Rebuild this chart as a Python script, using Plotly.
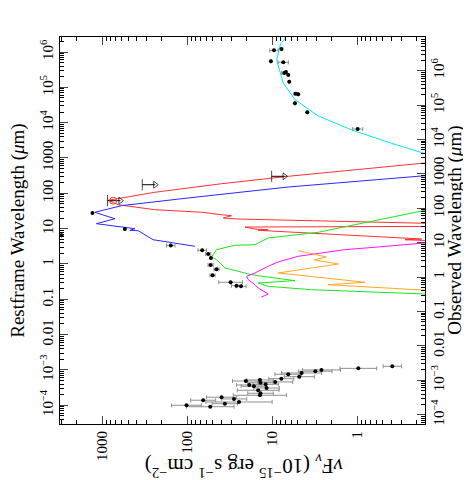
import numpy as np
import plotly.graph_objects as go

# observed photometry: restframe wavelength (micron), nuFnu (1e-15 erg/s/cm2), error (dex)
radio_wl = [1.117e6, 1.216e6, 5.46e5, 5.11e5, 2.55e5, 2.72e5, 2.23e5, 1.44e5, 6.61e4, 6.35e4, 3.53e4, 1.96e4, 6.6e3]
radio_flux = [9.57, 7.80, 10.4, 7.44, 7.24, 6.92, 6.50, 6.33, 5.33, 4.96, 5.42, 3.88, 0.99]
radio_err = [0.05, 0, 0, 0.06, 0.03, 0, 0, 0, 0.02, 0, 0, 0, 0.06]

opt_wl = [6.5, 27.7, 9.8, 3.33, 2.44, 1.92, 1.48, 0.935, 0.706, 0.478, 0.303, 0.243, 0.233]
opt_flux = [3040, 1312, 545, 157, 67, 56.9, 52.9, 53.4, 45.4, 50.6, 31.0, 26.4, 23.4]
opt_err = [0, 0, 0, 0.05, 0.05, 0.03, 0, 0.03, 0.03, 0.03, 0.14, 0.06, 0.06]

xray_wl = [1.27e-3, 1.11e-3, 1.0e-3, 9.2e-4, 8.2e-4, 7.55e-4, 6.45e-4, 5.66e-4, 5.2e-4, 4.57e-4,
           4.87e-4, 4.36e-4, 3.93e-4, 3.76e-4, 3.45e-4, 3.09e-4, 2.66e-4, 2.19e-4, 1.92e-4, 1.69e-4,
           1.51e-4, 1.39e-4, 1.24e-4, 1.11e-4, 1.0e-4, 9.1e-5]
xray_flux = [0.387, 0.973, 2.64, 3.12, 4.53, 6.50, 4.82, 7.85, 14.0, 9.25,
             20.5, 13.8, 12.0, 18.7, 16.5, 11.7, 14.7, 13.8, 14.0, 39.6,
             28.3, 65.2, 24.7, 36.2, 102.5, 53.9]
xray_err = [0.108, 0.216, 0.225, 0.197, 0.236, 0.157, 0.177, 0.147, 0.157, 0.206,
            0.157, 0.15, 0.15, 0.15, 0.15, 0.15, 0.245, 0.15, 0.314, 0.177,
            0.15, 0.147, 0.39, 0.15, 0.177, 0.28]

# far-IR upper limits
ulim_wl = [303, 175, 61.8]
ulim_flux = [10.2, 340, 873]
ring_wl = [61.8]
ring_flux = [748]

# model components
cyan_wl = [3.0e6, 1.7e6, 6.0e5, 1.32e5, 4.47e4, 1.55e4, 6.3e3, 2.63e3, 1.38e3, 1.0e3]
cyan_flux = [6.6, 8.0, 8.9, 7.45, 5.42, 2.88, 1.18, 0.40, 0.167, 0.10]

red_wl = [800, 303, 187, 107, 63.4, 47.6, 34.4, 29.0, 24.8, 23.3, 20.0, 18.7, 14.0, 11.6,
          11.1, 9.77, 9.33, 8.97, 7.53, 5.09, 4.86, 4.62, 4.0]
red_flux = [0.103, 6.5, 39.6, 242, 857, 653, 242, 66, 40.0, 30.3, 37.8, 25.2, 0.12, 0.12,
            21.0, 16.0, 11.2, 14.7, 3.78, 0.175, 0.274, 0.16, 0.10]

blue_wl = [357, 315, 151, 73.8, 44.7, 29.0, 19.1, 13.8, 10.9, 9.98, 8.97, 8.75, 4.86, 3.17]
blue_flux = [0.085, 0.16, 6.5, 97.9, 597, 1229, 714, 1178, 545, 415, 476, 380, 253, 81.7]

green_wl = [43.2, 33.0, 7.88, 5.43, 3.52, 3.38, 2.54, 2.18, 1.58, 1.32, 0.769, 0.621, 0.52,
            0.466, 0.337, 0.29, 0.233, 0.187, 0.141, 0.12]
green_flux = [0.085, 0.16, 2.88, 11.2, 16.0, 27.6, 45.4, 47.4, 52.0, 45.4, 36.1, 25.2, 19.2,
              14.7, 5.42, 14.7, 11.2, 3.45, 0.16, 0.09]

magenta_wl = [4.2, 3.93, 3.03, 2.54, 1.65, 1.14, 0.859, 0.556, 0.448, 0.359, 0.259, 0.209, 0.141, 0.115]
magenta_flux = [0.085, 0.16, 0.566, 1.40, 4.95, 8.53, 11.2, 16.0, 20.1, 19.2, 16.0, 14.7, 11.2, 13.5]

orange_wl = [2.38, 1.58, 1.30, 1.0, 0.556, 0.303, 0.259, 0.187, 0.17]
orange_flux = [4.95, 2.32, 3.21, 1.67, 8.53, 0.805, 2.20, 0.16, 0.10]

wl_ticks = [1e-4, 1e-3, 0.01, 0.1, 1, 10, 100, 1000, 1e4, 1e5, 1e6, 1e7]
wl_labels = ["10<sup>−4</sup>", "10<sup>−3</sup>", "0.01", "0.1", "1", "10", "100", "1000",
             "10<sup>4</sup>", "10<sup>5</sup>", "10<sup>6</sup>", "10<sup>7</sup>"]
flux_ticks = [1, 10, 100, 1000]
flux_labels = ["1", "10", "100", "1000"]

FONT = "Liberation Serif"

fig = go.Figure()

for wl, fl, col in [(cyan_wl, cyan_flux, "#00e8f0"), (red_wl, red_flux, "#ff3030"),
                    (blue_wl, blue_flux, "#2828ff"), (green_wl, green_flux, "#18e818"),
                    (magenta_wl, magenta_flux, "#ff10ff"), (orange_wl, orange_flux, "#ffa820")]:
    fig.add_trace(go.Scatter(x=fl, y=wl, mode="lines", line=dict(color=col, width=1),
                             showlegend=False, hoverinfo="skip"))


def add_points(wl, fl, err):
    fl = np.array(fl)
    e = np.array(err)
    fig.add_trace(go.Scatter(
        x=fl, y=wl, mode="markers",
        marker=dict(color="black", size=4),
        error_x=dict(type="data", symmetric=False,
                     array=fl * (10 ** e - 1), arrayminus=fl * (1 - 10 ** -e),
                     color="#909090", thickness=1, width=2),
        showlegend=False, hoverinfo="skip"))


add_points(radio_wl, radio_flux, radio_err)
add_points(opt_wl, opt_flux, opt_err)
add_points(xray_wl, xray_flux, xray_err)

# upper-limit arrows
for wl, fl in zip(ulim_wl, ulim_flux):
    fig.add_trace(go.Scatter(
        x=[fl, fl / 1.42], y=[wl, wl], mode="lines+markers",
        line=dict(color="black", width=1),
        marker=dict(symbol=["line-ns", "triangle-right-open"], size=[8, 6], color="black",
                    line=dict(color="black", width=1)),
        showlegend=False, hoverinfo="skip"))

fig.add_trace(go.Scatter(x=ring_flux, y=ring_wl, mode="markers",
                         marker=dict(symbol="circle-open", size=7, color="#ff3030", line=dict(width=1)),
                         showlegend=False, hoverinfo="skip"))

# dummy trace for the observed-frame axis
fig.add_trace(go.Scatter(x=[10], y=[10], yaxis="y2", mode="markers", marker=dict(opacity=0),
                         showlegend=False, hoverinfo="skip"))


def minor_vals(lo, hi):
    return [m * 10.0 ** k for k in range(lo, hi) for m in range(2, 10)]


axis_font = dict(family=FONT, size=15, color="black")
title_font = dict(family=FONT, size=19, color="black")

fig.update_layout(
    width=471, height=480,
    margin=dict(l=52, r=54, t=29, b=64),
    plot_bgcolor="white", paper_bgcolor="white",
    font=dict(family=FONT, size=15, color="black"),
    xaxis=dict(type="log", range=[3.5, -0.797], tickmode="array", tickvals=flux_ticks,
               ticktext=flux_labels, tickangle=-90, ticks="inside", ticklen=8,
               showline=True, linecolor="black", linewidth=1, mirror="ticks",
               showgrid=False, zeroline=False, tickfont=axis_font,
               minor=dict(ticks="inside", ticklen=4, tickvals=minor_vals(-1, 4),
                          tickcolor="black", showgrid=False)),
    yaxis=dict(type="log", range=[-4.53, 6.425], tickmode="array", tickvals=wl_ticks[:-1],
               ticktext=wl_labels[:-1], tickangle=-90, ticks="inside", ticklen=8,
               showline=True, linecolor="black", linewidth=1, mirror=False,
               showgrid=False, zeroline=False, tickfont=axis_font,
               minor=dict(ticks="inside", ticklen=4, tickvals=minor_vals(-5, 7),
                          tickcolor="black", showgrid=False)),
    yaxis2=dict(type="log", range=[-4.27, 6.98], overlaying="y", side="right",
                tickmode="array", tickvals=wl_ticks, ticktext=wl_labels, tickangle=-90,
                ticks="inside", ticklen=8, showline=True, linecolor="black", linewidth=1,
                showgrid=False, zeroline=False, tickfont=axis_font,
                minor=dict(ticks="inside", ticklen=4, tickvals=minor_vals(-5, 8),
                           tickcolor="black", showgrid=False)),
)

# axis titles (the whole chart is drawn rotated)
fig.add_annotation(text="Restframe Wavelength (<i>μ</i>m)", xref="paper", yref="paper",
                   x=-0.117, y=0.5, showarrow=False, textangle=-90, font=title_font,
                   xanchor="center", yanchor="middle")
fig.add_annotation(text="Observed Wavelength (<i>μ</i>m)", xref="paper", yref="paper",
                   x=1.08, y=0.5, showarrow=False, textangle=-90, font=title_font,
                   xanchor="center", yanchor="middle")
fig.add_annotation(
    text="<i>ν</i>F<sub><i>ν</i></sub> (10<sup>−15</sup> erg s<sup>−1</sup> cm<sup>−2</sup>)",
    xref="paper", yref="paper", x=0.504, y=-0.108, showarrow=False, textangle=180,
    font=dict(family=FONT, size=21, color="black"), yanchor="middle", xanchor="center")

fig.write_html("out.html")
